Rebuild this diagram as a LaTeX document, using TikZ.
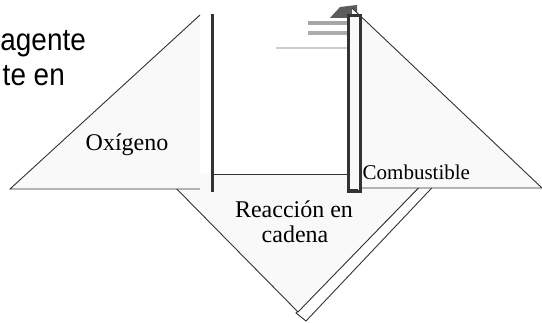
\documentclass[tikz,border=0pt]{standalone}
\usepackage{fontspec}
\usepackage{graphicx}
\setmainfont{Liberation Serif}
\newfontfamily\uisans{Liberation Sans}
\definecolor{paper}{HTML}{F9F9F9}
\definecolor{ink}{HTML}{333333}
\begin{document}
\begin{tikzpicture}[x=1pt,y=-1pt,
  edge/.style={draw=ink,line width=0.9pt},
  bar/.style={draw=ink,line width=3pt},
  lbl/.style={inner sep=0pt,font=\fontsize{#1}{#1}\selectfont}]
\useasboundingbox (0,0) rectangle (542,323);
% top-left clipped text
\node[inner sep=0pt,anchor=base east,font=\uisans\fontsize{31}{31}\selectfont] (t1) at (86,51) {\scalebox{0.9}[1]{agente}};
\node[inner sep=0pt,anchor=base east,font=\uisans\fontsize{31}{31}\selectfont] (t2) at (65,86) {\scalebox{0.9}[1]{te en}};
% blurred fragment top right
\fill[ink!80] (330,18) -- (340,7) -- (357,5) -- (357,18) -- cycle;
\draw[gray!70,line width=4.5pt] (308,23) -- (350,23);
\draw[gray!65,line width=4.5pt] (308,33) -- (350,33);
\draw[gray!40,line width=1.5pt] (276,48) -- (350,48);
% shadow strip of bottom triangle
\draw[edge,fill=white] (296,313) -- (306,321) -- (445,174) -- (432,174) -- cycle;
% bottom (inverted) triangle
\fill[paper] (162,174) -- (432,174) -- (298,312) -- cycle;
\draw[edge] (162,174) -- (298,312) -- (432,174);
\draw[edge] (212,174) -- (348,174);
% left triangle
\fill[paper] (10,189) -- (200,15) -- (200,189) -- cycle;
\draw[edge] (200,15) -- (10,189) -- (200,189);
% right triangle
\fill[paper] (352,8) -- (542,188) -- (352,188) -- cycle;
\draw[edge] (352,8) -- (542,188) -- (352,188);
% vertical bars
\draw[bar] (212,14) -- (212,192);
\draw[bar,fill=paper] (348.5,15.5) rectangle (360.5,191.5);
\draw[draw=ink,line width=3pt] (348,191) -- (358,191);
% labels
\node[lbl=24,anchor=base] (oxi) at (127,151) {Oxígeno};
\node[lbl=21,anchor=base west] (comb) at (362.5,180) {Combustible};
\node[lbl=24,anchor=base] (rea1) at (294,218) {Reacción en};
\node[lbl=24,anchor=base] (rea2) at (295,243) {cadena};
\end{tikzpicture}
\end{document}
